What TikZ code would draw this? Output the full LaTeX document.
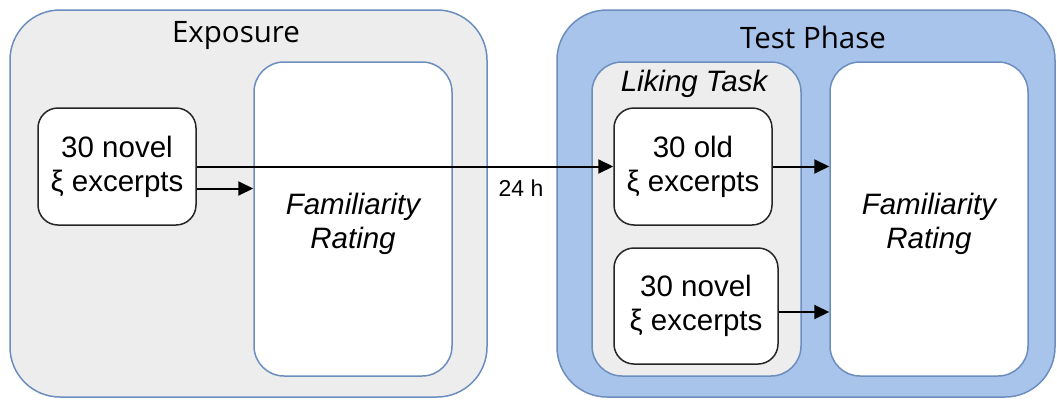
\documentclass[tikz,border=0pt]{standalone}
\usepackage{fontspec}
\setmainfont{Liberation Sans}
\newfontfamily\titlefont{Open Sans}
\usetikzlibrary{arrows.meta, positioning}
\definecolor{panelgray}{HTML}{EDEDED}
\definecolor{panelblue}{HTML}{A9C4EB}
\definecolor{edgeblue}{HTML}{6C8EBF}
\tikzstyle{phase} = [rectangle, rounded corners=50pt, line width=1.5pt, draw=edgeblue, inner sep=0pt]
\tikzstyle{task} = [rectangle, rounded corners=30pt, line width=1.5pt, draw=edgeblue, inner sep=0pt, align=center, font=\fontsize{29.5}{34}\selectfont\itshape]
\tikzstyle{task_text} = [align=center, font=\fontsize{29.5}{34}\selectfont\itshape]
\tikzstyle{stimuli} = [rectangle, rounded corners=20pt, line width=1.5pt, draw=black!85, fill=white, inner sep=0pt, align=center, font=\fontsize{29.5}{34}\selectfont]
\tikzstyle{title} = [font=\fontsize{29.5}{34}\selectfont\titlefont]
\tikzstyle{arrow_solid} = [line width=2pt,-{Triangle[length=15pt,width=14pt]}]

\begin{document}
\begin{tikzpicture}[x=1pt, y=-1pt]
	\useasboundingbox (0,0) rectangle (1057,399);

		\node (exposure) [phase, fill=panelgray, minimum width=477pt, minimum height=387pt] at (248.5,203.5) {};
		\node (exposure_title) [title] at (236,36) {Exposure};
		\node (exposure_rating) [task, fill=white, minimum width=198pt, minimum height=314pt] at (353,219) {};
		\node (exposure_rating_text) [task_text] at ([yshift=-5pt]exposure_rating.center) {Familiarity\\Rating};
		\node (novel_exposure) [stimuli, minimum width=158pt, minimum height=117pt] at (117,166.5) {30 novel\\ξ excerpts};

		\node (test) [phase, fill=panelblue, minimum width=498pt, minimum height=387pt] at (806,203.5) {};
		\node (test_title) [title] at (813,37) {Test Phase};
		\node (liking) [task, fill=panelgray, minimum width=209pt, minimum height=314pt] at (696.5,219) {};
		\node (liking_title) [task_text] at (694,84) {Liking Task};
		\node (old_test) [stimuli, minimum width=158pt, minimum height=117pt] at (693,166.5) {30 old\\ξ excerpts};
		\node (novel_test) [stimuli, minimum width=164pt, minimum height=116pt] at (696,306) {30 novel\\ξ excerpts};
		\node (test_rating) [task, fill=white, minimum width=198pt, minimum height=314pt] at (929,219) {};
		\node (test_rating_text) [task_text] at ([yshift=-5pt]test_rating.center) {Familiarity\\Rating};

		\node (delay) [font=\fontsize{23}{27}\selectfont] at (521,188) {24 h};

		% Arrows between the nodes
		\draw [arrow_solid] (novel_exposure.east) -- (old_test.west);
		\draw [arrow_solid] ([yshift=-22pt]novel_exposure.east) -- ([yshift=-22pt]novel_exposure.east -| exposure_rating.west);
		\draw [arrow_solid] (old_test.east) -- (old_test.east -| test_rating.west);
		\draw [arrow_solid] ([yshift=-6pt]novel_test.east) -- ([yshift=-6pt]novel_test.east -| test_rating.west);

\end{tikzpicture}
\end{document}
